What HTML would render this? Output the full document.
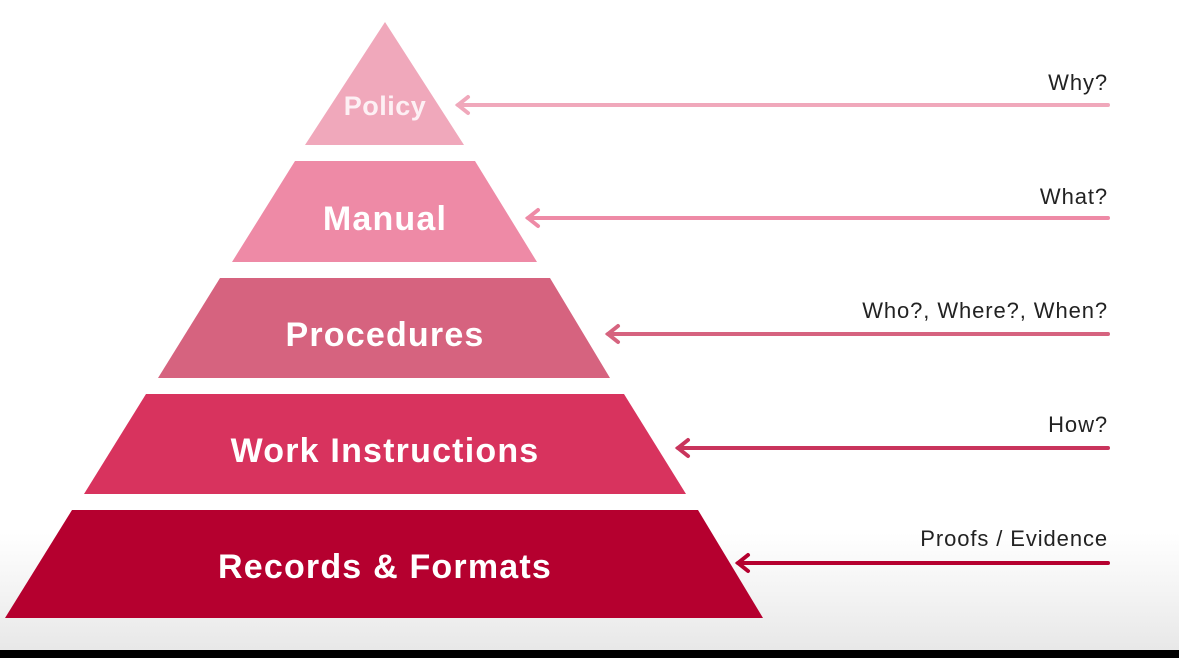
<!DOCTYPE html>
<html><head><style>
html,body{margin:0;padding:0;}
body{width:1179px;height:658px;overflow:hidden;background:#fff;}
</style></head><body>
<svg width="1179" height="658" viewBox="0 0 1179 658" xmlns="http://www.w3.org/2000/svg" font-family="'Liberation Sans', sans-serif">
<defs>
<linearGradient id="bg" x1="0" y1="0" x2="0" y2="1">
<stop offset="0" stop-color="#ffffff"/><stop offset="0.82" stop-color="#ffffff"/><stop offset="1" stop-color="#e8e8e8"/>
</linearGradient>
</defs>
<rect width="1179" height="650" fill="url(#bg)"/>
<rect y="650" width="1179" height="8" fill="#000"/>
<polygon points="385,22 464,145 305,145" fill="#f0a8bb"/>
<polygon points="295,161 475,161 537,262 232,262" fill="#ee8aa6"/>
<polygon points="220,278 550,278 610,378 158,378" fill="#d6637f"/>
<polygon points="146,394 624,394 686,494 84,494" fill="#d8335e"/>
<polygon points="72,510 698,510 763,618 5,618" fill="#b5002f"/>
<g fill="#fff" text-anchor="middle" font-size="34" font-weight="bold" letter-spacing="1.2">
<text x="385" y="115" font-size="27" letter-spacing="0.5" fill="#fdf0f4">Policy</text>
<text x="385" y="230">Manual</text>
<text x="385" y="346">Procedures</text>
<text x="385" y="462">Work Instructions</text>
<text x="385" y="578">Records &amp; Formats</text>
</g>
<g stroke-width="4" fill="none" stroke-linecap="round">
<g stroke="#f0a8bb"><line x1="458" y1="105" x2="1108" y2="105"/><polyline points="468,97 458,105 468,113"/></g>
<g stroke="#ee8aa6"><line x1="528" y1="218" x2="1108" y2="218"/><polyline points="538,210 528,218 538,226"/></g>
<g stroke="#d6637f"><line x1="608" y1="334" x2="1108" y2="334"/><polyline points="618,326 608,334 618,342"/></g>
<g stroke="#c9345c"><line x1="678" y1="448" x2="1108" y2="448"/><polyline points="688,440 678,448 688,456"/></g>
<g stroke="#b5002f"><line x1="738" y1="563" x2="1108" y2="563"/><polyline points="748,555 738,563 748,571"/></g>
</g>
<g fill="#222" text-anchor="end" font-size="22" letter-spacing="0.9">
<text x="1108" y="90">Why?</text>
<text x="1108" y="204">What?</text>
<text x="1108" y="318">Who?, Where?, When?</text>
<text x="1108" y="432">How?</text>
<text x="1108" y="546">Proofs / Evidence</text>
</g>
</svg>
</body></html>
